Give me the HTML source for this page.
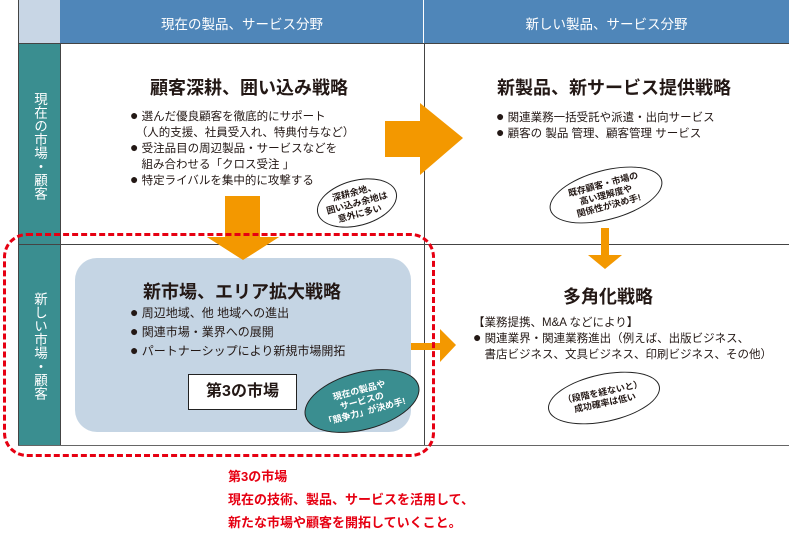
<!DOCTYPE html>
<html><head><meta charset="utf-8"><style>
body{margin:0;width:789px;height:530px;background:#fff;position:relative;overflow:hidden;font-family:"Liberation Sans","Noto Sans CJK JP",sans-serif;color:#231815}
.a{position:absolute}
.t{font-weight:bold;font-size:18px;white-space:nowrap}
.b{font-size:11.5px;line-height:16px;white-space:nowrap}
.b i{font-style:normal;font-size:14px;line-height:10px}
.ov{position:absolute;border:1.5px solid #222;border-radius:50%;background:#fff;font-size:9px;line-height:11px;text-align:center;display:flex;align-items:center;justify-content:center;font-weight:bold}
.vt{writing-mode:vertical-rl;color:#fff;font-size:13.5px;line-height:16px}
</style></head><body>
<div class="a" style="left:18px;top:0;width:42px;height:43px;background:#c8d6e5"></div>
<div class="a" style="left:60px;top:0;width:729px;height:43px;background:#4f86b9"></div>
<div class="a" style="left:60px;top:13px;width:364px;text-align:center;color:#fff;font-size:13.5px">現在の製品、サービス分野</div>
<div class="a" style="left:424px;top:13px;width:365px;text-align:center;color:#fff;font-size:13.5px">新しい製品、サービス分野</div>
<div class="a" style="left:423px;top:0;width:1px;height:43px;background:#fff"></div>
<div class="a" style="left:18px;top:43px;width:42px;height:402px;background:#3a8e90"></div>
<div class="a" style="left:18px;top:43px;width:771px;height:1px;background:#444"></div>
<div class="a" style="left:18px;top:244px;width:771px;height:1px;background:#444"></div>
<div class="a" style="left:18px;top:445px;width:771px;height:1px;background:#666"></div>
<div class="a" style="left:60px;top:43px;width:1px;height:402px;background:#444"></div>
<div class="a" style="left:424px;top:43px;width:1px;height:402px;background:#444"></div>
<div class="a" style="left:18px;top:0;width:1px;height:445px;background:#444"></div>
<div class="a vt" style="left:31px;top:92px">現在の市場・顧客</div>
<div class="a vt" style="left:31px;top:292px">新しい市場・顧客</div>

<div class="a t" style="left:150px;top:74px">顧客深耕、囲い込み戦略</div>
<div class="a b" style="left:130px;top:109px"><i>●</i> 選んだ優良顧客を徹底的にサポート<br>　（人的支援、社員受入れ、特典付与など）<br><i>●</i> 受注品目の周辺製品・サービスなどを<br>　組み合わせる「クロス受注 」<br><i>●</i> 特定ライバルを集中的に攻撃する</div>
<div class="ov" style="left:316px;top:180px;width:80px;height:44px;transform:rotate(-15deg)">深耕余地、<br>囲い込み余地は<br>意外に多い</div>

<div class="a t" style="left:497px;top:74px">新製品、新サービス提供戦略</div>
<div class="a b" style="left:496px;top:110px"><i>●</i> 関連業務一括受託や派遣・出向サービス<br><i>●</i> 顧客の 製品 管理、顧客管理 サービス</div>
<div class="ov" style="left:548px;top:170px;width:114px;height:48px;transform:rotate(-15deg)">既存顧客・市場の<br>高い理解度や<br>関係性が決め手!</div>

<svg class="a" style="left:0;top:0" width="789" height="530">
<polygon points="385,121 420,121 420,103 463,138 420,175 420,157 385,157" fill="#f39800"/>
<polygon points="225,196 260,196 260,237 279,237 243,260 207,237 225,237" fill="#f39800"/>
<polygon points="601,228 609,228 609,255 622,255 605,269 588,255 601,255" fill="#f39800"/>
<polygon points="400,343 440,343 440,329 456,345 440,362 440,350 400,350" fill="#f39800"/>
</svg>

<div class="a" style="left:75px;top:258px;width:336px;height:174px;background:#c5d5e4;border-radius:22px"></div>
<svg class="a" style="left:0;top:0" width="789" height="530">
<polygon points="207,237 279,237 243,260" fill="#f39800"/>
</svg>
<div class="a t" style="left:143px;top:278px">新市場、エリア拡大戦略</div>
<div class="a b" style="left:130px;top:304px;font-size:12px;line-height:19px"><i>●</i> 周辺地域、他 地域への進出<br><i>●</i> 関連市場・業界への展開<br><i>●</i> パートナーシップにより新規市場開拓</div>
<div class="a" style="left:188px;top:374px;width:107px;height:34px;border:1.5px solid #222;background:#fff;text-align:center;font-weight:bold;font-size:16px;line-height:34px">第3の市場</div>
<div class="ov" style="left:303px;top:372px;width:116px;height:56px;background:#3a8e90;color:#fff;transform:rotate(-15deg)">現在の製品や<br>サービスの<br>「競争力」が決め手!</div>

<div class="a t" style="left:563px;top:283px">多角化戦略</div>
<div class="a b" style="left:473px;top:315px">【業務提携、M&amp;A などにより】<br><i>●</i> 関連業界・関連業務進出（例えば、出版ビジネス、<br>　書店ビジネス、文具ビジネス、印刷ビジネス、その他）</div>
<div class="ov" style="left:547px;top:374px;width:112px;height:46px;transform:rotate(-12deg)">（段階を経ないと）<br>成功確率は低い</div>

<div class="a" style="left:3px;top:233px;width:426px;height:218px;border:3px dashed #e60012;border-radius:24px"></div>

<div class="a" style="left:228px;top:465px;color:#e60012;font-weight:bold;font-size:13px;line-height:23px;white-space:nowrap">第3の市場<br>現在の技術、製品、サービスを活用して、<br>新たな市場や顧客を開拓していくこと。</div>
</body></html>
